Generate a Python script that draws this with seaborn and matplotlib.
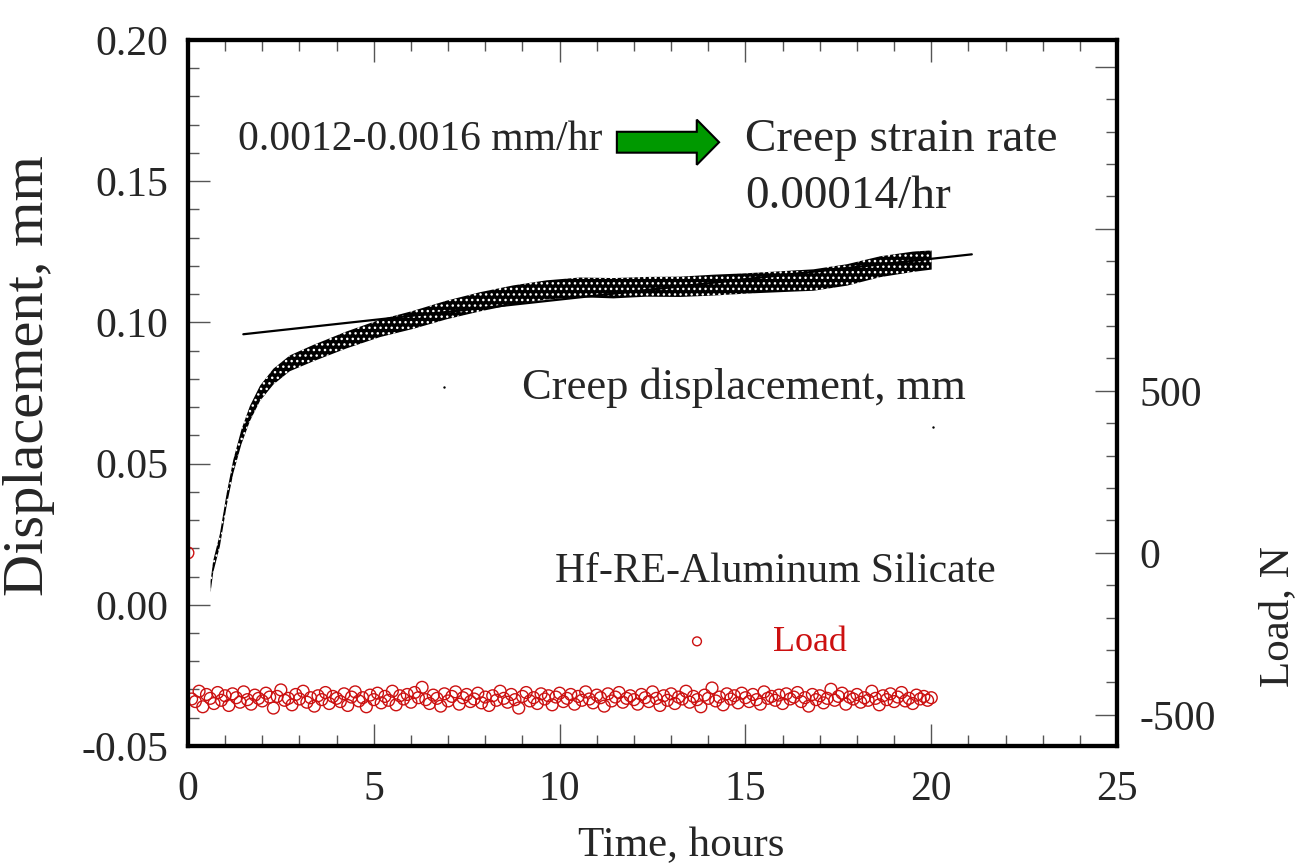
import matplotlib
matplotlib.use('Agg')
import matplotlib.pyplot as plt
import matplotlib.patches as mpatches
from matplotlib.ticker import MultipleLocator
import seaborn as sns

# creep displacement band: centre line and half thickness (mm)
disp_time = [0.61, 0.68, 0.86, 1.04, 1.22, 1.44, 1.67, 1.94, 2.30, 2.74,
             3.37, 4.27, 5.17, 6.06, 6.96, 7.86, 8.75, 9.65, 10.55, 11.45,
             12.34, 13.24, 14.14, 15.03, 15.93, 16.83, 17.73, 18.62, 19.52, 20.01]
disp_mid = [0.0064, 0.0135, 0.0229, 0.0371, 0.0489, 0.0595, 0.0678, 0.0749, 0.0808, 0.0855,
            0.0891, 0.0938, 0.0979, 0.1009, 0.1044, 0.1073, 0.1097, 0.1115, 0.1124, 0.1121,
            0.1126, 0.1126, 0.1132, 0.1138, 0.1144, 0.1150, 0.1168, 0.1197, 0.1215, 0.1221]
disp_half = [0.0020, 0.0021, 0.0022, 0.0022, 0.0024, 0.0026, 0.0027, 0.0027, 0.0028, 0.0028,
             0.0029, 0.0030, 0.0031, 0.0032, 0.0033, 0.0034, 0.0034, 0.0034, 0.0035, 0.0036,
             0.0035, 0.0036, 0.0037, 0.0036, 0.0037, 0.0038, 0.0038, 0.0037, 0.0036, 0.0034]

# two stray readings
stray_time = [6.9, 20.05]
stray_disp = [0.077, 0.063]

# steady-state fit line
fit_time = [1.49, 21.09]
fit_disp = [0.0958, 0.1241]

# load channel (N), one reading every 0.1 h
load_time = [0.0, 0.1, 0.2, 0.3, 0.4, 0.5, 0.6, 0.7, 0.8, 0.9, 1.0, 1.1, 1.2, 1.3, 1.4, 1.5, 1.6, 1.7, 1.8, 1.9,
             2.0, 2.1, 2.2, 2.3, 2.4, 2.5, 2.6, 2.7, 2.8, 2.9, 3.0, 3.1, 3.2, 3.3, 3.4, 3.5, 3.6, 3.7, 3.8, 3.9,
             4.0, 4.1, 4.2, 4.3, 4.4, 4.5, 4.6, 4.7, 4.8, 4.9, 5.0, 5.1, 5.2, 5.3, 5.4, 5.5, 5.6, 5.7, 5.8, 5.9,
             6.0, 6.1, 6.2, 6.3, 6.4, 6.5, 6.6, 6.7, 6.8, 6.9, 7.0, 7.1, 7.2, 7.3, 7.4, 7.5, 7.6, 7.7, 7.8, 7.9,
             8.0, 8.1, 8.2, 8.3, 8.4, 8.5, 8.6, 8.7, 8.8, 8.9, 9.0, 9.1, 9.2, 9.3, 9.4, 9.5, 9.6, 9.7, 9.8, 9.9,
             10.0, 10.1, 10.2, 10.3, 10.4, 10.5, 10.6, 10.7, 10.8, 10.9, 11.0, 11.1, 11.2, 11.3, 11.4, 11.5, 11.6, 11.7, 11.8, 11.9,
             12.0, 12.1, 12.2, 12.3, 12.4, 12.5, 12.6, 12.7, 12.8, 12.9, 13.0, 13.1, 13.2, 13.3, 13.4, 13.5, 13.6, 13.7, 13.8, 13.9,
             14.0, 14.1, 14.2, 14.3, 14.4, 14.5, 14.6, 14.7, 14.8, 14.9, 15.0, 15.1, 15.2, 15.3, 15.4, 15.5, 15.6, 15.7, 15.8, 15.9,
             16.0, 16.1, 16.2, 16.3, 16.4, 16.5, 16.6, 16.7, 16.8, 16.9, 17.0, 17.1, 17.2, 17.3, 17.4, 17.5, 17.6, 17.7, 17.8, 17.9,
             18.0, 18.1, 18.2, 18.3, 18.4, 18.5, 18.6, 18.7, 18.8, 18.9, 19.0, 19.1, 19.2, 19.3, 19.4, 19.5, 19.6, 19.7, 19.8, 19.9,
             20.0]
load_n = [0, -451, -459, -427, -475, -437, -449, -465, -431, -455, -441, -471, -435, -447, -461, -429, -453, -467, -439, -449,
          -457, -433, -445, -479, -443, -423, -455, -449, -469, -437, -451, -427, -461, -447, -473, -441, -453, -431, -465, -443,
          -449, -459, -435, -471, -445, -429, -457, -447, -475, -439, -453, -433, -463, -443, -455, -427, -469, -441, -451, -437,
          -461, -431, -447, -415, -453, -465, -439, -449, -473, -435, -457, -443, -429, -467, -447, -437, -459, -451, -433, -463,
          -445, -471, -441, -455, -427, -449, -461, -437, -453, -479, -443, -431, -457, -447, -465, -435, -451, -441, -469, -445,
          -433, -459, -449, -437, -467, -443, -455, -429, -451, -463, -439, -447, -473, -435, -457, -445, -431, -461, -449, -441,
          -453, -467, -437, -447, -459, -429, -449, -471, -441, -455, -435, -465, -445, -451, -427, -461, -443, -453, -475, -439,
          -449, -417, -457, -445, -469, -435, -451, -441, -463, -433, -447, -459, -437, -453, -467, -429, -449, -443, -455, -439,
          -465, -435, -451, -445, -431, -459, -447, -473, -437, -453, -441, -463, -449, -421, -455, -443, -433, -467, -445, -451,
          -437, -461, -447, -455, -427, -449, -469, -441, -453, -435, -459, -445, -431, -457, -449, -465, -439, -451, -443, -455,
          -447]

red = '#cc1010'

sns.set_style('ticks')
plt.rcParams['font.family'] = ['Liberation Serif', 'DejaVu Serif']
plt.rcParams['axes.unicode_minus'] = False
plt.rcParams['hatch.linewidth'] = 1.0

fig = plt.figure(figsize=(12.96, 8.66), dpi=100)
ax = fig.add_axes([0.145, 0.1386, 0.717, 0.8152])

# displacement cloud
lo = [m - h for m, h in zip(disp_mid, disp_half)]
hi = [m + h for m, h in zip(disp_mid, disp_half)]
ax.fill_between(disp_time, lo, hi, facecolor='black', edgecolor='white',
                hatch='...', linewidth=0, zorder=2)
sns.scatterplot(x=stray_time, y=stray_disp, ax=ax, color='black', s=3,
                linewidth=0, zorder=3)
sns.lineplot(x=fit_time, y=fit_disp, ax=ax, color='black', linewidth=1.6,
             zorder=4)

ax.set_xlim(0, 25)
ax.set_ylim(-0.05, 0.20)
ax.xaxis.set_major_locator(MultipleLocator(5))
ax.xaxis.set_minor_locator(MultipleLocator(1))
ax.yaxis.set_major_locator(MultipleLocator(0.05))
ax.yaxis.set_minor_locator(MultipleLocator(0.01))
ax.yaxis.set_major_formatter(lambda v, p: f'{v:.2f}')
ax.tick_params(axis='both', which='both', direction='in', color='#555555',
               width=1, labelsize=30)
ax.tick_params(axis='x', which='both', top=True, bottom=True, pad=18)
ax.tick_params(axis='y', which='both', left=True, right=False, pad=14)
ax.tick_params(which='major', length=16)
ax.tick_params(which='minor', length=8)
ax.set_xlabel('Time, hours', fontsize=31)
ax.xaxis.set_label_coords(0.531, -0.114)
ax.set_ylabel('Displacement, mm', fontsize=42)
ax.yaxis.set_label_coords(-0.143, 0.524)
for s in ax.spines.values():
    s.set_linewidth(3)
    s.set_color('black')

# load on the right axis
ax2 = ax.twinx()
sns.scatterplot(x=load_time, y=load_n, ax=ax2, marker='o', s=72,
                facecolor='none', edgecolor=red, color=red, linewidth=1.0,
                label='Load')
ax2.set_ylim(-596, 1583)
ax2.set_yticks([-500, 0, 500, 1000, 1500], labels=['-500', '0', '500', '', ''])
ax2.yaxis.set_minor_locator(MultipleLocator(100))
ax2.tick_params(axis='y', which='both', direction='in', color='#555555',
                width=1, labelsize=30, pad=16)
ax2.tick_params(which='major', length=16)
ax2.tick_params(which='minor', length=8)
ax2.set_ylabel('Load, N', fontsize=31, rotation=90)
ax2.yaxis.set_label_coords(1.152, 0.183)
for s in ax2.spines.values():
    s.set_linewidth(3)
    s.set_color('black')

ax2.legend(loc='center left', bbox_to_anchor=(0.509, 0.147), frameon=False,
           fontsize=26, labelcolor=red, handlelength=2, handletextpad=1.1,
           borderpad=0, borderaxespad=0, markerscale=0.75)

# annotations
arrow = mpatches.FancyArrow(11.54, 0.1638, 2.75, 0, width=0.0074,
                            head_width=0.016, head_length=0.6,
                            length_includes_head=True, facecolor='#009900',
                            edgecolor='black', linewidth=1.5, zorder=5)
ax.add_patch(arrow)
ax.text(1.35, 0.1646, '0.0012-0.0016 mm/hr', fontsize=30, va='center')
ax.text(15.0, 0.1646, 'Creep strain rate', fontsize=34, va='center')
ax.text(15.0, 0.1444, '0.00014/hr', fontsize=34, va='center')
ax.text(8.99, 0.0768, 'Creep displacement, mm', fontsize=32, va='center')
ax.text(9.88, 0.0118, 'Hf-RE-Aluminum Silicate', fontsize=30, va='center')

fig.savefig('out.png', dpi=100)
